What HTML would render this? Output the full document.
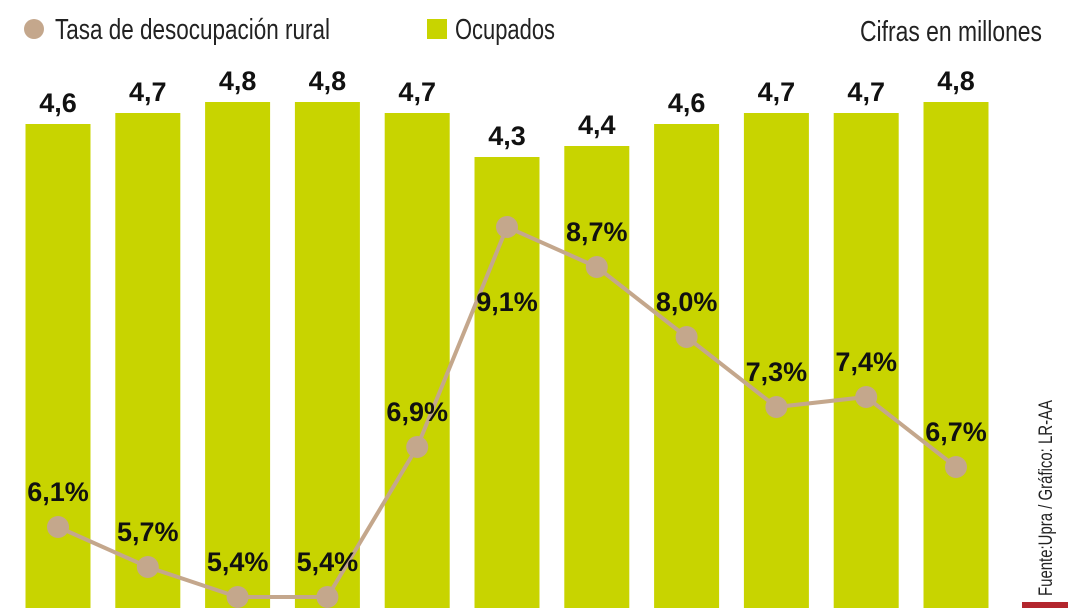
<!DOCTYPE html>
<html><head><meta charset="utf-8"><style>
html,body{margin:0;padding:0;background:#fff;width:1080px;height:608px;overflow:hidden}
svg text{font-family:"Liberation Sans Narrow","Liberation Sans",sans-serif}
</style></head><body>
<svg id="chart" width="1080" height="608" viewBox="0 0 1080 608" xmlns="http://www.w3.org/2000/svg">
<g>
<circle cx="34" cy="29" r="10" fill="#c4a78c"/>
<text x="55" y="39" font-size="29" fill="#222" textLength="275" lengthAdjust="spacingAndGlyphs">Tasa de desocupación rural</text>
<rect x="427" y="19" width="20" height="20" fill="#c8d400"/>
<text x="455" y="39" font-size="29" fill="#222" textLength="100" lengthAdjust="spacingAndGlyphs">Ocupados</text>
</g>
<text x="1042" y="41" font-size="29" fill="#222" text-anchor="end" textLength="182" lengthAdjust="spacingAndGlyphs">Cifras en millones</text>
<text transform="translate(1052,596) rotate(-90)" font-size="19" fill="#222" textLength="196" lengthAdjust="spacingAndGlyphs">Fuente:Upra / Gráfico: LR-AA</text>
<rect x="1022" y="602" width="46" height="6" fill="#b3262d"/>
<g id="bars"></g><g id="line"></g><g id="labels"></g>
</svg>
<script>
const categories=["p1","p2","p3","p4","p5","p6","p7","p8","p9","p10","p11"];
const employed=[4.6,4.7,4.8,4.8,4.7,4.3,4.4,4.6,4.7,4.7,4.8];
const employedLabels=["4,6","4,7","4,8","4,8","4,7","4,3","4,4","4,6","4,7","4,7","4,8"];
const rate=[6.1,5.7,5.4,5.4,6.9,9.1,8.7,8.0,7.3,7.4,6.7];
const rateLabels=["6,1%","5,7%","5,4%","5,4%","6,9%","9,1%","8,7%","8,0%","7,3%","7,4%","6,7%"];
const NS="http://www.w3.org/2000/svg";
const xC=i=>58+i*89.8;
const yBar=v=>124-(v-4.6)*110;
const yRate=v=>527-(v-6.1)*100;
const bars=document.getElementById('bars'),line=document.getElementById('line'),labels=document.getElementById('labels');
function mk(t,a){const e=document.createElementNS(NS,t);for(const k in a)e.setAttribute(k,a[k]);return e;}
employed.forEach((v,i)=>{
 const r=mk('rect',{x:xC(i)-32.5,y:yBar(v),width:65,height:608-yBar(v),fill:'#c8d400'});
 
 
 bars.appendChild(r);
 const t=mk('text',{x:xC(i),y:yBar(v)-12,'font-size':27,'font-weight':'bold','text-anchor':'middle',fill:'#111'});
 t.textContent=employedLabels[i];
 
 
 labels.appendChild(t);
});
const pts=rate.map((v,i)=>xC(i)+','+yRate(v)).join(' ');
const pl=mk('polyline',{points:pts,fill:'none',stroke:'#c4a78c','stroke-width':4});


line.appendChild(pl);
const maxRate=Math.max(...rate);
rate.forEach((v,i)=>{
 const c=mk('circle',{cx:xC(i),cy:yRate(v),r:11,fill:'#c4a78c'});
 
 
 line.appendChild(c);
 const below=v===maxRate;
 const ty=below?yRate(v)+84:yRate(v)-26;
 const t=mk('text',{x:xC(i),y:ty,'font-size':27,'font-weight':'bold','text-anchor':'middle',fill:'#111'});
 t.textContent=rateLabels[i];
 
 
 labels.appendChild(t);
});
</script>
</body></html>
